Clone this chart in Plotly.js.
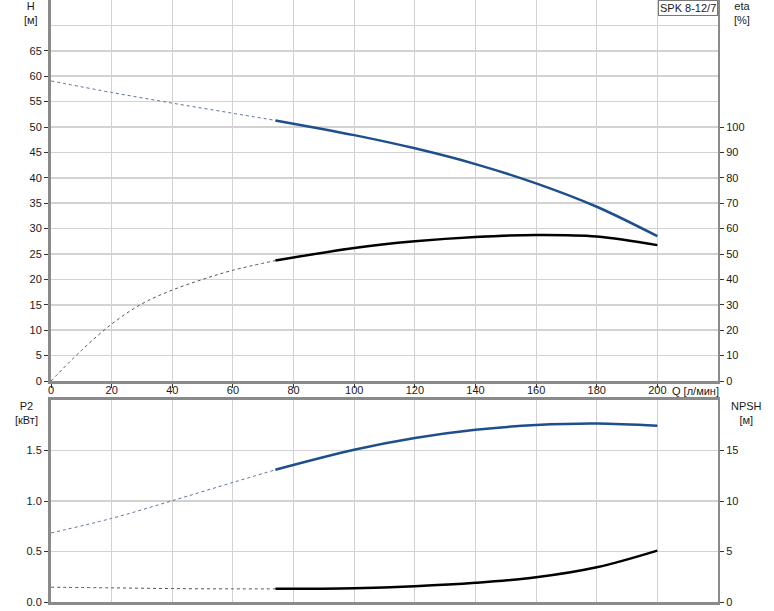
<!DOCTYPE html>
<html>
<head>
<meta charset="utf-8">
<script src="https://cdn.plot.ly/plotly-3.0.1.min.js"></script>
<style>html,body{margin:0;padding:0;background:#fff}#chart{width:774px;height:611px}</style>
</head>
<body>
<div id="chart"></div>
<script>
// Flow rate Q [л/мин]
const qTicks = [0, 20, 40, 60, 80, 100, 120, 140, 160, 180, 200];

// Head H [м]
const hDashQ = [0, 20, 40, 60, 74];
const hDash  = [59.06, 56.8, 54.7, 52.7, 51.3];
const hQ     = [74, 100, 120, 140, 160, 180, 200];
const hVal   = [51.3, 48.4, 45.8, 42.7, 38.9, 34.3, 28.5];

// Efficiency eta [%]
const etaDashQ = [0, 10, 20, 30, 40, 50, 60, 74];
const etaDash  = [0, 12.0, 22.4, 30.4, 35.8, 40.0, 43.6, 47.4];
const etaQ     = [74, 100, 120, 140, 160, 180, 200];
const etaVal   = [47.4, 52.4, 55.0, 56.7, 57.5, 56.9, 53.5];

// Power P2 [кВт]
const p2DashQ = [0, 20, 40, 60, 74];
const p2Dash  = [0.684, 0.828, 1.003, 1.184, 1.309];
const p2Q     = [74, 100, 120, 140, 160, 180, 200];
const p2Val   = [1.309, 1.507, 1.623, 1.705, 1.752, 1.767, 1.744];

// NPSH [м]
const npshDashQ = [0, 20, 40, 60, 74];
const npshDash  = [1.46, 1.40, 1.33, 1.30, 1.30];
const npshQ     = [74, 100, 120, 140, 160, 180, 200];
const npshVal   = [1.30, 1.36, 1.56, 1.90, 2.45, 3.44, 5.09];

const hTicks = [0, 5, 10, 15, 20, 25, 30, 35, 40, 45, 50, 55, 60, 65];
const etaTicks = [0, 10, 20, 30, 40, 50, 60, 70, 80, 90, 100];
const p2Ticks = [0, 0.5, 1.0, 1.5];
const p2TickText = ['0.0', '0.5', '1.0', '1.5'];
const npshTicks = [0, 5, 10, 15];

const BLUE = '#1d4f8c';
const BLACK = '#000000';
const AXIS = '#8a8a8a';
const GRID = '#d2d2d2';
const FONT = {family: 'Liberation Sans, Arial, sans-serif', size: 11, color: '#1a1a1a'};

const traces = [
  {x: hDashQ, y: hDash, xaxis: 'x', yaxis: 'y', mode: 'lines', line: {color: '#5a72a0', width: 1, dash: 'dot', shape: 'spline'}, hoverinfo: 'skip'},
  {x: hQ, y: hVal, xaxis: 'x', yaxis: 'y', mode: 'lines', line: {color: BLUE, width: 2.5, shape: 'spline'}},
  {x: etaDashQ, y: etaDash, xaxis: 'x', yaxis: 'y2', mode: 'lines', line: {color: '#555555', width: 1, dash: 'dot', shape: 'spline'}, hoverinfo: 'skip'},
  {x: etaQ, y: etaVal, xaxis: 'x', yaxis: 'y2', mode: 'lines', line: {color: BLACK, width: 2.5, shape: 'spline'}},
  {x: p2DashQ, y: p2Dash, xaxis: 'x2', yaxis: 'y3', mode: 'lines', line: {color: '#5a72a0', width: 1, dash: 'dot', shape: 'spline'}, hoverinfo: 'skip'},
  {x: p2Q, y: p2Val, xaxis: 'x2', yaxis: 'y3', mode: 'lines', line: {color: BLUE, width: 2.5, shape: 'spline'}},
  {x: npshDashQ, y: npshDash, xaxis: 'x2', yaxis: 'y4', mode: 'lines', line: {color: '#555555', width: 1, dash: 'dot', shape: 'spline'}, hoverinfo: 'skip'},
  {x: npshQ, y: npshVal, xaxis: 'x2', yaxis: 'y4', mode: 'lines', line: {color: BLACK, width: 2.5, shape: 'spline'}}
];

const topDomain = [(602 - 381) / 602, 1];
const botDomain = [0, (602 - 400) / 602];

const layout = {
  width: 774, height: 611,
  margin: {l: 51, r: 56, t: 0, b: 9},
  paper_bgcolor: '#ffffff', plot_bgcolor: '#ffffff',
  showlegend: false,
  font: FONT,
  xaxis: {
    domain: [0, 1], anchor: 'y', range: [0, 220],
    tickmode: 'array', tickvals: qTicks, ticks: 'outside', ticklen: 4, tickcolor: '#333',
    ticklabelstandoff: -7,
    showgrid: true, gridcolor: GRID, gridwidth: 1, zeroline: false,
    showline: true, linecolor: AXIS, linewidth: 3, tickfont: FONT
  },
  yaxis: {
    domain: topDomain, anchor: 'x', range: [0, 75],
    tickmode: 'array', tickvals: hTicks, ticks: 'outside', ticklen: 4, tickcolor: '#333',
    minor: {tickmode: 'array', tickvals: [70], showgrid: true, gridcolor: GRID, ticks: ''},
    showgrid: true, gridcolor: GRID, gridwidth: 1.5, zeroline: false,
    showline: true, linecolor: AXIS, linewidth: 3, tickfont: FONT
  },
  yaxis2: {
    overlaying: 'y', side: 'right', anchor: 'x', range: [0, 150],
    tickmode: 'array', tickvals: etaTicks, ticks: 'outside', ticklen: 4, tickcolor: '#333',
    showgrid: false, zeroline: false,
    showline: true, linecolor: AXIS, linewidth: 2, tickfont: FONT
  },
  xaxis2: {
    domain: [0, 1], anchor: 'y3', range: [0, 220],
    tickmode: 'array', tickvals: qTicks, ticks: '', showticklabels: false,
    showgrid: true, gridcolor: GRID, gridwidth: 1, zeroline: false,
    showline: true, mirror: true, linecolor: AXIS, linewidth: 3
  },
  yaxis3: {
    domain: botDomain, anchor: 'x2', range: [0, 2],
    tickmode: 'array', tickvals: p2Ticks, ticktext: p2TickText, ticks: 'outside', ticklen: 4, tickcolor: '#333',
    showgrid: true, gridcolor: GRID, gridwidth: 1.5, zeroline: false,
    showline: true, linecolor: AXIS, linewidth: 3, tickfont: FONT
  },
  yaxis4: {
    overlaying: 'y3', side: 'right', anchor: 'x2', range: [0, 20],
    tickmode: 'array', tickvals: npshTicks, ticks: 'outside', ticklen: 4, tickcolor: '#333',
    showgrid: false, zeroline: false,
    showline: true, linecolor: AXIS, linewidth: 2, tickfont: FONT
  },
  annotations: [
    {xref: 'paper', yref: 'paper', x: (31 - 51) / 667, y: 1, xanchor: 'center', yanchor: 'top', yshift: 2,
     text: 'H<br>[м]', showarrow: false, font: FONT, align: 'center'},
    {xref: 'paper', yref: 'paper', x: (742 - 51) / 667, y: 1, xanchor: 'center', yanchor: 'top', yshift: 2,
     text: 'eta<br>[%]', showarrow: false, font: FONT, align: 'center'},
    {xref: 'paper', yref: 'paper', x: (26 - 51) / 667, y: (602 - 398) / 602, xanchor: 'center', yanchor: 'top',
     text: 'P2<br>[кВт]', showarrow: false, font: FONT, align: 'center'},
    {xref: 'paper', yref: 'paper', x: (746 - 51) / 667, y: (602 - 398) / 602, xanchor: 'center', yanchor: 'top',
     text: 'NPSH<br>[м]', showarrow: false, font: FONT, align: 'center'},
    {xref: 'paper', yref: 'paper', x: (670 - 51) / 667, y: (602 - 391) / 602, xanchor: 'left', yanchor: 'middle',
     text: 'Q [л/мин]', showarrow: false, font: FONT},
    {xref: 'paper', yref: 'paper', x: 1, y: 1, xanchor: 'right', yanchor: 'top',
     text: 'SPK 8-12/7', showarrow: false, font: FONT, bgcolor: '#ffffff', bordercolor: '#777777', borderwidth: 1, borderpad: 1}
  ]
};

Plotly.newPlot('chart', traces, layout, {displayModeBar: false, staticPlot: true});
</script>
</body>
</html>
